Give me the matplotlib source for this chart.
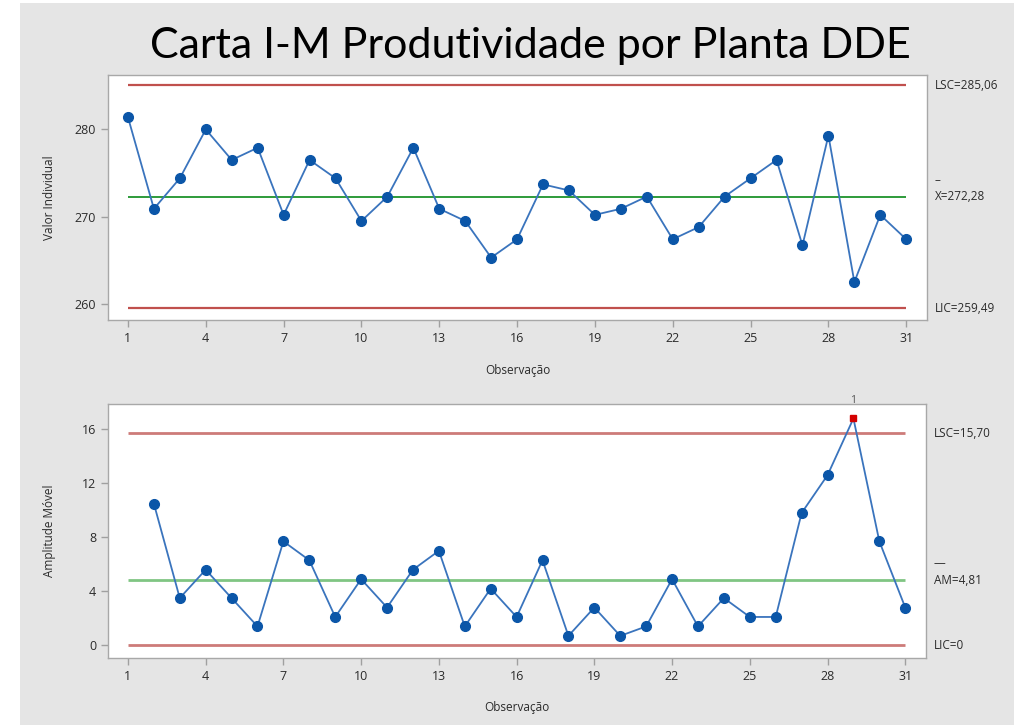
import numpy as np
import matplotlib
matplotlib.use('Agg')
import matplotlib.pyplot as plt
from matplotlib.patches import Rectangle
from matplotlib.transforms import blended_transform_factory

# produtividade por observacao
obs = np.arange(1, 32)
valores = [281.4, 270.9, 274.4, 280.0, 276.5, 277.9, 270.2, 276.5, 274.4, 269.5,
           272.3, 277.9, 270.9, 269.5, 265.3, 267.4, 273.7, 273.0, 270.2, 270.9,
           272.3, 267.4, 268.8, 272.3, 274.4, 276.5, 266.7, 279.3, 262.5, 270.2,
           267.4]

# limites das cartas
lsc_i, media_i, lic_i = 285.06, 272.28, 259.49
lsc_am, media_am, lic_am = 15.70, 4.81, 0.0
ponto_fora = 29

x_ticks = list(range(1, 32, 3))
yticks_i = [260, 270, 280]
yticks_am = [0, 4, 8, 12, 16]

# amplitude movel (a partir da 2a observacao)
am = np.abs(np.diff(valores))
obs_am = obs[1:]

plt.rcParams['font.family'] = ['Open Sans', 'DejaVu Sans']

azul_linha = '#3a74bd'
azul_ponto = '#0b56a8'
cinza_fundo = '#e5e5e5'

fig = plt.figure(figsize=(10.14, 7.25), dpi=100)
fig.patch.set_facecolor('white')
fig.patches.append(Rectangle((20/1014, 0), 1 - 20/1014, 1 - 3/725,
                             transform=fig.transFigure, facecolor=cinza_fundo,
                             edgecolor='none', zorder=-10))

ax1 = fig.add_axes([0.1065, 0.5586, 0.8077, 0.3379])
ax2 = fig.add_axes([0.1065, 0.0924, 0.8067, 0.3503])


def estilo(ax, yticks, ylim, ylabel):
    ax.set_facecolor('white')
    ax.set_xlim(0.23, 31.8)
    ax.set_ylim(*ylim)
    ax.set_xticks(x_ticks)
    ax.set_yticks(yticks)
    for s in ax.spines.values():
        s.set_color('#a8a8a8')
        s.set_linewidth(1)
    ax.tick_params(colors='#a0a0a0', labelcolor='#2b2b2b', labelsize=9,
                   length=5, width=1)
    ax.set_xlabel('Observação', fontsize=8.5, color='#2b2b2b')
    ax.set_ylabel(ylabel, fontsize=8.5, color='#2b2b2b')
    ax.yaxis.set_label_coords(-0.064, 0.5)


# carta de valores individuais
estilo(ax1, yticks_i, (258.14, 286.24), 'Valor Individual')
ax1.xaxis.set_label_coords(0.5, -0.18)
ax1.hlines([lsc_i, lic_i], 1, 31, colors='#c0504d', lw=1.6, zorder=2)
ax1.hlines(media_i, 1, 31, colors='#2e9b3a', lw=1.4, zorder=2)
ax1.plot(obs, valores, color=azul_linha, lw=1.3, marker='o', ms=7,
         mfc=azul_ponto, mec=azul_ponto, zorder=3)

tr1 = blended_transform_factory(ax1.transAxes, ax1.transData)
ax1.text(1.0098, lsc_i, 'LSC=285,06', transform=tr1, va='center', fontsize=8.5, color='#2b2b2b')
ax1.text(1.0098, media_i, 'X=272,28', transform=tr1, va='center', fontsize=8.5, color='#2b2b2b')
ax1.annotate('–', (1.0098, media_i), xycoords=tr1, xytext=(0, 12), textcoords='offset points',
             va='center', fontsize=8.5, color='#2b2b2b')
ax1.text(1.0098, lic_i, 'LIC=259,49', transform=tr1, va='center', fontsize=8.5, color='#2b2b2b')

# carta de amplitude movel
estilo(ax2, yticks_am, (-0.94, 17.87), 'Amplitude Móvel')
ax2.xaxis.set_label_coords(0.5, -0.168)
ax2.hlines([lsc_am, lic_am], 1, 31, colors='#cd7b79', lw=2, zorder=2)
ax2.hlines(media_am, 1, 31, colors='#80c583', lw=2, zorder=2)
ax2.plot(obs_am, am, color=azul_linha, lw=1.3, zorder=3)
normais = obs_am != ponto_fora
ax2.plot(obs_am[normais], am[normais], ls='none', marker='o', ms=7,
         mfc=azul_ponto, mec=azul_ponto, zorder=4)
ax2.plot(obs_am[~normais], am[~normais], ls='none', marker='s', ms=5,
         mfc='#d40000', mec='#d40000', zorder=4)
ax2.annotate('1', (ponto_fora, am[~normais][0]), xytext=(0, 9), textcoords='offset points',
             ha='center', va='bottom', fontsize=7.5, color='#555555')

tr2 = blended_transform_factory(ax2.transAxes, ax2.transData)
ax2.text(1.0098, lsc_am, 'LSC=15,70', transform=tr2, va='center', fontsize=8.5, color='#2b2b2b')
ax2.text(1.0098, media_am, 'AM=4,81', transform=tr2, va='center', fontsize=8.5, color='#2b2b2b')
ax2.annotate('—', (1.0098, media_am), xycoords=tr2, xytext=(0, 12), textcoords='offset points',
             va='center', fontsize=8.5, color='#2b2b2b')
ax2.text(1.0098, lic_am, 'LIC=0', transform=tr2, va='center', fontsize=8.5, color='#2b2b2b')

fig.text(0.523, 0.92, 'Carta I-M Produtividade por Planta DDE', ha='center', va='baseline',
         fontsize=31, family=['Lato', 'DejaVu Sans'], color='black')

fig.savefig('out.png', dpi=100)
